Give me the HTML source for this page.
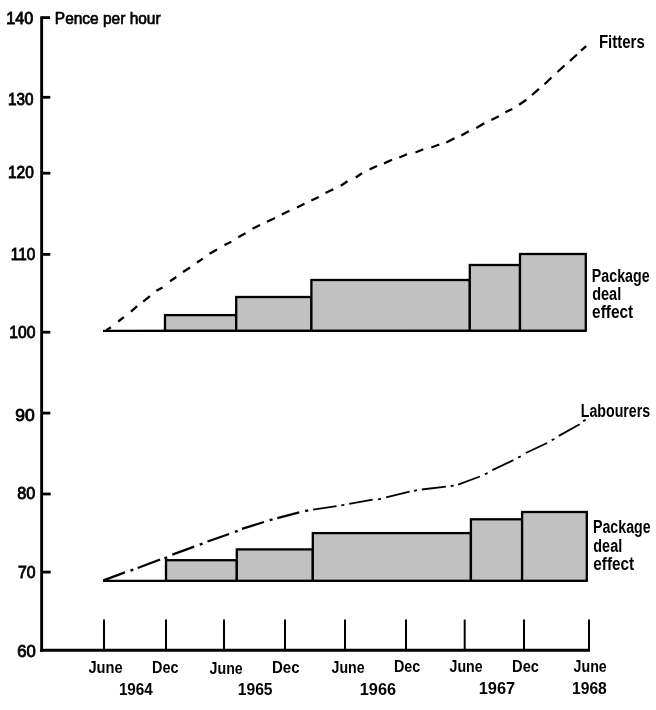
<!DOCTYPE html>
<html lang="en">
<head>
<meta charset="utf-8">
<title>Pence per hour</title>
<style>
html,body{margin:0;padding:0;background:#fff;}
body{width:656px;height:710px;overflow:hidden;}
svg{display:block;}
text{font-family:"Liberation Sans",sans-serif;fill:#000;font-weight:bold;}
.yl{font-size:16.6px;font-weight:normal;stroke:#000;stroke-width:.85px;}
.ttl{font-size:17px;font-weight:normal;stroke:#000;stroke-width:.7px;}
.xl{font-size:17.4px;}
.yr{font-size:16px;}
.lb{font-size:18px;}
.bar{fill:#c1c1c1;stroke:#000;stroke-width:2.3;stroke-linejoin:miter;}
</style>
</head>
<body>
<svg width="656" height="710" viewBox="0 0 656 710">
<rect width="656" height="710" fill="#fff"/>

<!-- axes -->
<g stroke="#000" fill="none">
<path d="M41.65 16.2V651.8" stroke-width="2.9"/>
<path d="M40.2 650.3H590" stroke-width="3"/>
<g stroke-width="2.8">
<path d="M42 17.6H50"/>
<path d="M42 97.3H50.3"/>
<path d="M42 173.2H50.3"/>
<path d="M42 254.4H50.3"/>
<path d="M42 332.2H50.3"/>
<path d="M42 413.1H50.3"/>
<path d="M42 494H50.7"/>
<path d="M42 572.1H50.7"/>
</g>
<g stroke-width="2">
<path d="M104 619.6V649"/>
<path d="M166 619.6V649"/>
<path d="M224 619.6V649"/>
<path d="M285 619.6V649"/>
<path d="M345 619.6V649"/>
<path d="M406 619.6V649"/>
<path d="M464.7 619.6V649"/>
<path d="M524 619.6V649"/>
<path d="M589 619.6V649"/>
</g>
</g>

<!-- upper bars -->
<g class="bar">
<path d="M103 330.9L585.8 330.5"/>
<rect x="165" y="315.1" width="71.2" height="15.6"/>
<rect x="236.2" y="297" width="75.2" height="33.7"/>
<rect x="311.4" y="280" width="158.4" height="50.7"/>
<rect x="469.8" y="265" width="50.2" height="65.7"/>
<rect x="520" y="254" width="65.8" height="76.7"/>
</g>

<!-- lower bars -->
<g class="bar">
<path d="M103 580.8H586.8"/>
<rect x="166" y="560.2" width="70.8" height="20.6"/>
<rect x="236.8" y="549.4" width="76" height="31.4"/>
<rect x="312.8" y="533.1" width="158.1" height="47.7"/>
<rect x="470.9" y="519.3" width="51.2" height="61.5"/>
<rect x="522.1" y="512" width="64.7" height="68.8"/>
</g>

<!-- Fitters (dashed) and Labourers (dash-dot) lines -->
<path fill="none" stroke="#000" stroke-width="2.3" d="M106.3 330.3L110.9 327.2 M118.2 321.5L123.9 317.1 M131.0 311.7L137.1 306.1 M143.2 301.6L149.9 296.1 M156.3 290.8L162.5 287.5 M170.0 281.3L176.3 277.0 M183.0 272.0L190.0 267.5 M197.0 262.5L202.8 258.6 M209.5 253.8L217.0 249.5 M224.5 245.0L231.3 241.8 M238.2 237.3L245.5 233.3 M252.5 228.8L260.0 225.0 M267.0 221.8L275.0 218.0 M281.8 214.5L289.5 210.8 M297.0 207.5L304.5 203.8 M311.3 200.5L318.8 197.0 M325.5 193.0L333.3 189.3 M340.8 185.8L347.5 181.3 M355.8 177.5L362.0 173.3 M369.6 169.4L377.0 166.0 M384.0 163.4L392.0 159.8 M399.3 157.5L407.0 154.3 M415.5 152.5L423.3 149.3 M431.3 147.5L439.3 144.5 M446.3 142.5L454.5 138.3 M461.3 135.5L468.8 131.3 M476.3 128.0L484.3 123.3 M491.3 120.0L498.8 116.3 M505.3 112.3L512.3 109.0 M519.1 104.8L526.4 99.7 M532.0 95.0L539.0 88.8 M544.5 84.3L551.5 77.5 M557.5 72.0L564.5 65.5 M570.0 60.8L577.0 54.5 M581.0 50.6L586.2 46.1"/>
<path fill="none" stroke="#000" stroke-width="2.3" d="M103.5 580.4L124.9 572.3 M130.5 570.6L133.3 569.6 M137.7 568.0L160.1 559.5 M164.4 558.3L167.2 557.3 M172.3 554.6L194.2 546.7 M199.7 544.6L202.5 543.6 M207.5 541.5L229.1 534.0 M234.9 531.9L237.7 530.9 M242.0 528.8L264.0 522.0 M269.7 520.2L272.5 519.4 M277.3 518.1L299.2 512.4 M305.2 511.1L308.2 510.3"/>
<path fill="none" stroke="#000" stroke-width="1.8" d="M313.1 509.6L336.5 506.1 M341.3 505.3L344.3 504.9 M349.2 503.8L372.7 499.7 M378.0 499.4L381.0 498.8 M386.1 497.4L409.6 491.6 M413.9 490.9L416.9 490.1 M421.8 489.5L445.9 486.7 M450.7 486.0L453.7 485.6 M458.1 484.7L479.9 476.5 M484.9 474.2L487.7 473.2 M492.3 470.1L513.4 460.1 M518.0 457.5L520.8 456.3 M525.8 453.0L547.1 443.0 M551.7 440.2L554.5 439.0 M558.8 435.9L579.7 424.2 M583.1 421.1L585.7 419.7"/>

<!-- text labels -->
<text class="yl" x="6.31" y="24.00" textLength="26.92" lengthAdjust="spacingAndGlyphs">140</text>
<text class="yl" x="8.01" y="105.00" textLength="25.46" lengthAdjust="spacingAndGlyphs">130</text>
<text class="yl" x="7.91" y="178.00" textLength="25.90" lengthAdjust="spacingAndGlyphs">120</text>
<text class="yl" x="10.84" y="260.00" textLength="24.44" lengthAdjust="spacingAndGlyphs">110</text>
<text class="yl" x="9.31" y="338.00" textLength="26.18" lengthAdjust="spacingAndGlyphs">100</text>
<text class="yl" x="15.18" y="421.00" textLength="19.46" lengthAdjust="spacingAndGlyphs">90</text>
<text class="yl" x="17.33" y="499.00" textLength="18.01" lengthAdjust="spacingAndGlyphs">80</text>
<text class="yl" x="17.91" y="578.00" textLength="17.55" lengthAdjust="spacingAndGlyphs">70</text>
<text class="yl" x="17.27" y="657.00" textLength="18.55" lengthAdjust="spacingAndGlyphs">60</text>
<text class="ttl" x="54.83" y="24.00" textLength="105.76" lengthAdjust="spacingAndGlyphs">Pence per hour</text>
<text class="lb" x="598.88" y="48.00" textLength="45.86" lengthAdjust="spacingAndGlyphs">Fitters</text>
<text class="lb" x="580.81" y="417.00" textLength="69.27" lengthAdjust="spacingAndGlyphs">Labourers</text>
<text class="lb" x="591.86" y="282.00" textLength="57.81" lengthAdjust="spacingAndGlyphs">Package</text>
<text class="lb" x="592.13" y="300.00" textLength="29.07" lengthAdjust="spacingAndGlyphs">deal</text>
<text class="lb" x="592.08" y="318.00" textLength="41.18" lengthAdjust="spacingAndGlyphs">effect</text>
<text class="lb" x="592.97" y="533.00" textLength="57.71" lengthAdjust="spacingAndGlyphs">Package</text>
<text class="lb" x="593.30" y="552.00" textLength="28.89" lengthAdjust="spacingAndGlyphs">deal</text>
<text class="lb" x="593.34" y="570.00" textLength="40.82" lengthAdjust="spacingAndGlyphs">effect</text>
<text class="xl" x="88.40" y="673.00" textLength="34.21" lengthAdjust="spacingAndGlyphs">June</text>
<text class="xl" x="152.12" y="673.00" textLength="26.45" lengthAdjust="spacingAndGlyphs">Dec</text>
<text class="xl" x="209.57" y="674.00" textLength="33.14" lengthAdjust="spacingAndGlyphs">June</text>
<text class="xl" x="271.91" y="673.00" textLength="27.62" lengthAdjust="spacingAndGlyphs">Dec</text>
<text class="xl" x="331.55" y="673.00" textLength="33.06" lengthAdjust="spacingAndGlyphs">June</text>
<text class="xl" x="393.96" y="672.00" textLength="26.37" lengthAdjust="spacingAndGlyphs">Dec</text>
<text class="xl" x="449.55" y="672.00" textLength="33.03" lengthAdjust="spacingAndGlyphs">June</text>
<text class="xl" x="512.05" y="672.00" textLength="26.90" lengthAdjust="spacingAndGlyphs">Dec</text>
<text class="xl" x="573.57" y="672.00" textLength="33.14" lengthAdjust="spacingAndGlyphs">June</text>
<text class="yr" x="118.89" y="695.00" textLength="33.95" lengthAdjust="spacingAndGlyphs">1964</text>
<text class="yr" x="237.71" y="695.00" textLength="34.86" lengthAdjust="spacingAndGlyphs">1965</text>
<text class="yr" x="359.75" y="695.00" textLength="36.25" lengthAdjust="spacingAndGlyphs">1966</text>
<text class="yr" x="478.72" y="694.00" textLength="36.45" lengthAdjust="spacingAndGlyphs">1967</text>
<text class="yr" x="571.97" y="694.00" textLength="34.83" lengthAdjust="spacingAndGlyphs">1968</text>
</svg>
</body>
</html>
